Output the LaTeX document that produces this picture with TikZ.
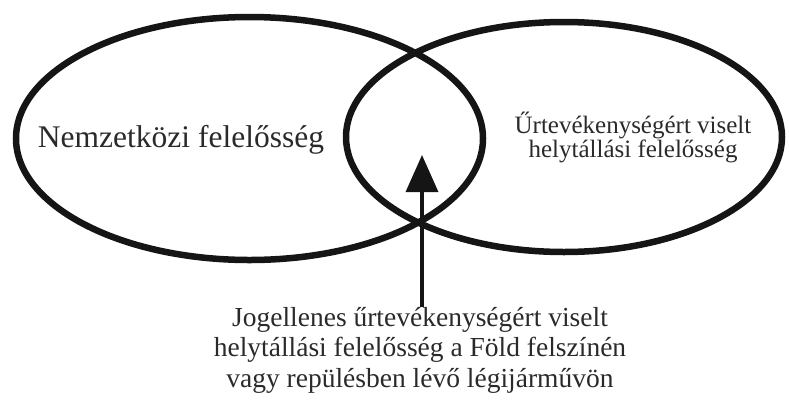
\documentclass[tikz,border=0pt]{standalone}
\usepackage{fontspec}
\setmainfont{Liberation Serif}
\usetikzlibrary{arrows.meta,positioning}
\definecolor{ink}   {HTML}{151515}
\definecolor{szoveg}{HTML}{2A2A2A}

\begin{document}
\begin{tikzpicture}[x=1pt,y=-1pt,
    kor/.style={draw=ink, line width=6.5pt},
    felirat/.style={text=szoveg, inner sep=0pt, align=center},
    nyil/.style={draw=ink, line width=3.5pt, -{Triangle[length=37pt,width=32pt]}}]
  \useasboundingbox (0,0) rectangle (789,405);
  % ket ellipszis
  \draw[kor] (249.5,138.5) ellipse [x radius=233.5pt, y radius=121.5pt];
  \draw[kor] (564,137) ellipse [x radius=218pt, y radius=115pt];
  % feliratok
  \node[felirat, anchor=base, font=\fontsize{31.5}{31.5}\selectfont]
    (nemzetkozi) at (181,147) {Nemzetközi felelősség};
  \node[felirat, anchor=base, font=\fontsize{25}{22}\selectfont]
    (urtev) at (633,157) {Űrtevékenységért viselt\\helytállási felelősség};
  \node[felirat, anchor=base, font=\fontsize{27.5}{30.5}\selectfont]
    (jogellenes) at (420,387) {Jogellenes űrtevékenységért viselt\\helytállási felelősség a Föld felszínén\\vagy repülésben lévő légijárművön};
  % nyil
  \coordinate (csucs) at (422,155);
  \draw[nyil] (jogellenes.north -| csucs) -- (csucs);
\end{tikzpicture}
\end{document}
